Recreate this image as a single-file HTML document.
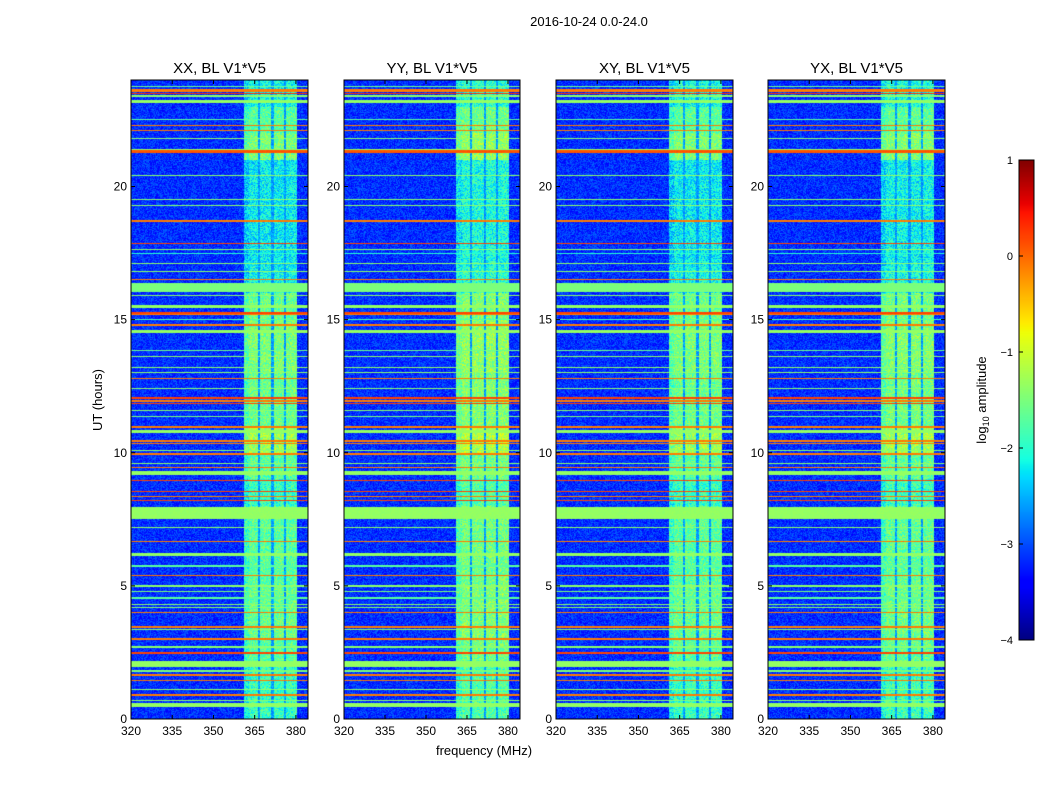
<!DOCTYPE html>
<html><head><meta charset="utf-8"><style>
body{margin:0;background:#fff;width:1050px;height:800px;overflow:hidden;position:relative;font-family:"Liberation Sans",sans-serif}
canvas{position:absolute}
svg{position:absolute;left:0;top:0}
</style></head><body>
<canvas id="c0" width="177" height="639" style="left:131px;top:80px"></canvas>
<canvas id="c1" width="176" height="639" style="left:344px;top:80px"></canvas>
<canvas id="c2" width="177" height="639" style="left:556px;top:80px"></canvas>
<canvas id="c3" width="177" height="639" style="left:768px;top:80px"></canvas>
<canvas id="cb" width="15" height="480" style="left:1019px;top:160px"></canvas>
<svg id="ov" width="1050" height="800">
<text x="589" y="26" font-size="13" text-anchor="middle">2016-10-24 0.0-24.0</text>
<text x="102" y="400" font-size="13" text-anchor="middle" transform="rotate(-90 102 400)">UT (hours)</text>
<text x="484" y="755" font-size="13" text-anchor="middle">frequency (MHz)</text>
<text x="986" y="400" font-size="13" text-anchor="middle" transform="rotate(-90 986 400)">log<tspan font-size="9" dy="3">10</tspan><tspan dy="-3"> amplitude</tspan></text>
<rect x="1019" y="160" width="15" height="480" fill="none" stroke="#000"/>
</svg>
<script>
// ---- data ----
const panelTitles=["XX, BL V1*V5","YY, BL V1*V5","XY, BL V1*V5","YX, BL V1*V5"];
const xTicks=[320,335,350,365,380];
const yTicks=[0,5,10,15,20];
const cbTicks=[1,0,-1,-2,-3,-4];
const backgroundLevel=-3.15;
const bandStart=361, bandEnd=380.5;
const bandGaps=[366.5,371.5,376];
const bandLevels=[-1.9,-1.9,-1.7,-1.6,-1.6,-1.7,-1.7,-1.7,-1.9,-1.7,-1.3,-1.6,-1.6,-1.5,-1.5,-1.6,-2.1,-2.2,-2.2,-2.2,-2.2,-1.5,-1.7,-2.1];
const panelBandOffset=[0,0.15,0,0.05];
const rfiHours=[23.75,23.6,23.5,23.4,23.2,22.5,22.3,22.1,21.8,21.4,21.3,20.4,19.5,19.3,18.7,17.87,17.65,17.5,17.1,16.8,16.5,16.2,15.9,15.5,15.25,15.2,15.0,14.8,14.55,13.85,13.6,13.2,13.0,12.8,12.4,12.05,11.95,11.85,11.57,11.35,10.97,10.8,10.45,10.35,10.07,9.95,9.6,9.45,9.25,8.95,8.55,8.35,8.2,7.72,7.2,6.67,6.18,5.75,5.4,5.0,4.8,4.55,4.3,4.2,4.0,3.45,3.35,3.0,2.7,2.47,2.07,1.8,1.65,1.45,1.1,0.9,0.7,0.52];
const rfiWidths=[0.04,0.1,0.04,0.04,0.12,0.04,0.04,0.04,0.04,0.04,0.12,0.04,0.04,0.04,0.05,0.05,0.04,0.04,0.04,0.04,0.05,0.35,0.04,0.12,0.05,0.04,0.04,0.05,0.1,0.05,0.04,0.04,0.04,0.05,0.04,0.06,0.06,0.06,0.04,0.04,0.05,0.08,0.06,0.05,0.04,0.05,0.04,0.05,0.15,0.05,0.06,0.05,0.05,0.45,0.05,0.05,0.12,0.05,0.05,0.05,0.04,0.1,0.04,0.05,0.05,0.05,0.04,0.05,0.05,0.06,0.25,0.05,0.05,0.05,0.05,0.05,0.05,0.15];
const rfiLevels=[-1.6,-0.1,0.3,-1.4,-1.35,-1.7,-0.1,-0.1,-1.4,-1.4,0.1,-1.4,-1.4,-1.4,-0.1,0.2,-1.4,-2.0,-1.4,-1.4,-0.1,-1.5,-1.4,-1.35,0.2,-0.1,-1.8,-0.1,-1.35,-1.6,-1.4,-1.4,-1.4,-0.1,-1.4,0.2,-0.1,0.2,-1.4,-1.5,-0.1,-1.35,-0.1,-0.1,-1.4,-0.1,-1.4,-0.1,-1.35,0.2,0.2,-0.1,0.2,-1.35,-1.4,-0.1,-1.35,-1.7,-0.1,-1.4,-1.5,-1.7,-1.4,-1.4,-0.1,-0.1,-1.4,-0.1,-1.4,0.2,-1.35,-1.5,-0.1,-0.1,-1.4,-0.1,-1.4,-1.35];
// ---- scales ----
const fMin=320,fMax=384.4,hMin=0,hMax=24,vMin=-4,vMax=1;
function lerpMap(pts,t){for(let i=1;i<pts.length;i++){if(t<=pts[i][0]){const a=pts[i-1],b=pts[i];return a[1]+(b[1]-a[1])*(t-a[0])/(b[0]-a[0]);}}return pts[pts.length-1][1];}
function jet(v){const t=Math.max(0,Math.min(1,(v-vMin)/(vMax-vMin)));
return [lerpMap([[0,0],[0.35,0],[0.66,1],[0.89,1],[1,0.5]],t),lerpMap([[0,0],[0.125,0],[0.375,1],[0.64,1],[0.91,0],[1,0]],t),lerpMap([[0,0.5],[0.11,1],[0.34,1],[0.65,0],[1,0]],t)].map(x=>Math.round(x*255));}
function tex(i,j,p){let h=(i*374761393+j*668265263+p*1442695041)|0;h=(h^(h>>>13))*1274126177;h=h^(h>>>16);return ((h>>>0)%1000)/1000-0.5;}
function draw(p){const c=document.getElementById('c'+p),W=c.width,H=c.height,ctx=c.getContext('2d'),img=ctx.createImageData(W,H);
for(let y=0;y<H;y++){const hr=hMax-(y+0.5)/H*(hMax-hMin);let line=null;
for(let k=0;k<rfiHours.length;k++){const hw=Math.max(rfiWidths[k],0.04)/2;if(Math.abs(hr-rfiHours[k])<=hw){line=rfiLevels[k];}}
const bl=bandLevels[Math.min(23,Math.floor(hr))]+panelBandOffset[p];
for(let x=0;x<W;x++){const f=fMin+(x+0.5)/W*(fMax-fMin);const n=tex(x,y,p);let v=backgroundLevel+n*0.6;
if(f>=bandStart&&f<=bandEnd){let b=bl+n*0.9;if(f<363)b-=0.2;for(const g of bandGaps){if(Math.abs(f-g)<0.45)b=-2.6+n*0.5;}v=Math.max(v,b);}
if(line!==null)v=line+n*0.1;
const col=jet(v),o=(y*W+x)*4;img.data[o]=col[0];img.data[o+1]=col[1];img.data[o+2]=col[2];img.data[o+3]=255;}}
ctx.putImageData(img,0,0);}
for(let p=0;p<4;p++)draw(p);
(function(){const c=document.getElementById('cb'),ctx=c.getContext('2d');for(let y=0;y<c.height;y++){const v=vMax-(y+0.5)/c.height*(vMax-vMin);const col=jet(v);ctx.fillStyle=`rgb(${col})`;ctx.fillRect(0,y,c.width,1);}})();
// ---- axes ----
const NS='http://www.w3.org/2000/svg',ov=document.getElementById('ov');
const lefts=[131,344,556,768],widths=[177,176,177,177],top0=80,bottom0=719;
function el(t,a,txt){const e=document.createElementNS(NS,t);for(const k in a)e.setAttribute(k,a[k]);if(txt!==undefined)e.textContent=txt;ov.appendChild(e);return e;}
lefts.forEach((L,p)=>{const W=widths[p];
 const xs=f=>L+(f-fMin)/(fMax-fMin)*W, ys=h=>bottom0-(h-hMin)/(hMax-hMin)*(bottom0-top0);
 const fr=el('rect',{x:L,y:top0,width:W,height:bottom0-top0,fill:'none',stroke:'#000'});
 
 
 const tt=el('text',{x:L+W/2,y:73,'font-size':15,'text-anchor':'middle'},panelTitles[p]);
 
 
 xTicks.forEach(f=>{const X=xs(f);
  const t1=el('line',{x1:X,x2:X,y1:bottom0,y2:bottom0-4,stroke:'#000'});
  
  
  el('line',{x1:X,x2:X,y1:top0,y2:top0+4,stroke:'#000'});
  const lb=el('text',{x:X,y:bottom0+16,'font-size':12,'text-anchor':'middle'},String(f));
  
  });
 yTicks.forEach(h=>{const Y=ys(h);
  const t2=el('line',{x1:L,x2:L+4,y1:Y,y2:Y,stroke:'#000'});
  
  
  el('line',{x1:L+W,x2:L+W-4,y1:Y,y2:Y,stroke:'#000'});
  const lb=el('text',{x:L-4,y:Y+4,'font-size':12,'text-anchor':'end'},String(h));
  
  });
});
cbTicks.forEach(v=>{const Y=160+(vMax-v)/(vMax-vMin)*480;
 el('line',{x1:1019,x2:1023,y1:Y,y2:Y,stroke:'#000'});
 const lb=el('text',{x:1013,y:Y+4,'font-size':11,'text-anchor':'end'},v<0?'\u2212'+(-v):String(v));
 
 });
</script>
</body></html>
